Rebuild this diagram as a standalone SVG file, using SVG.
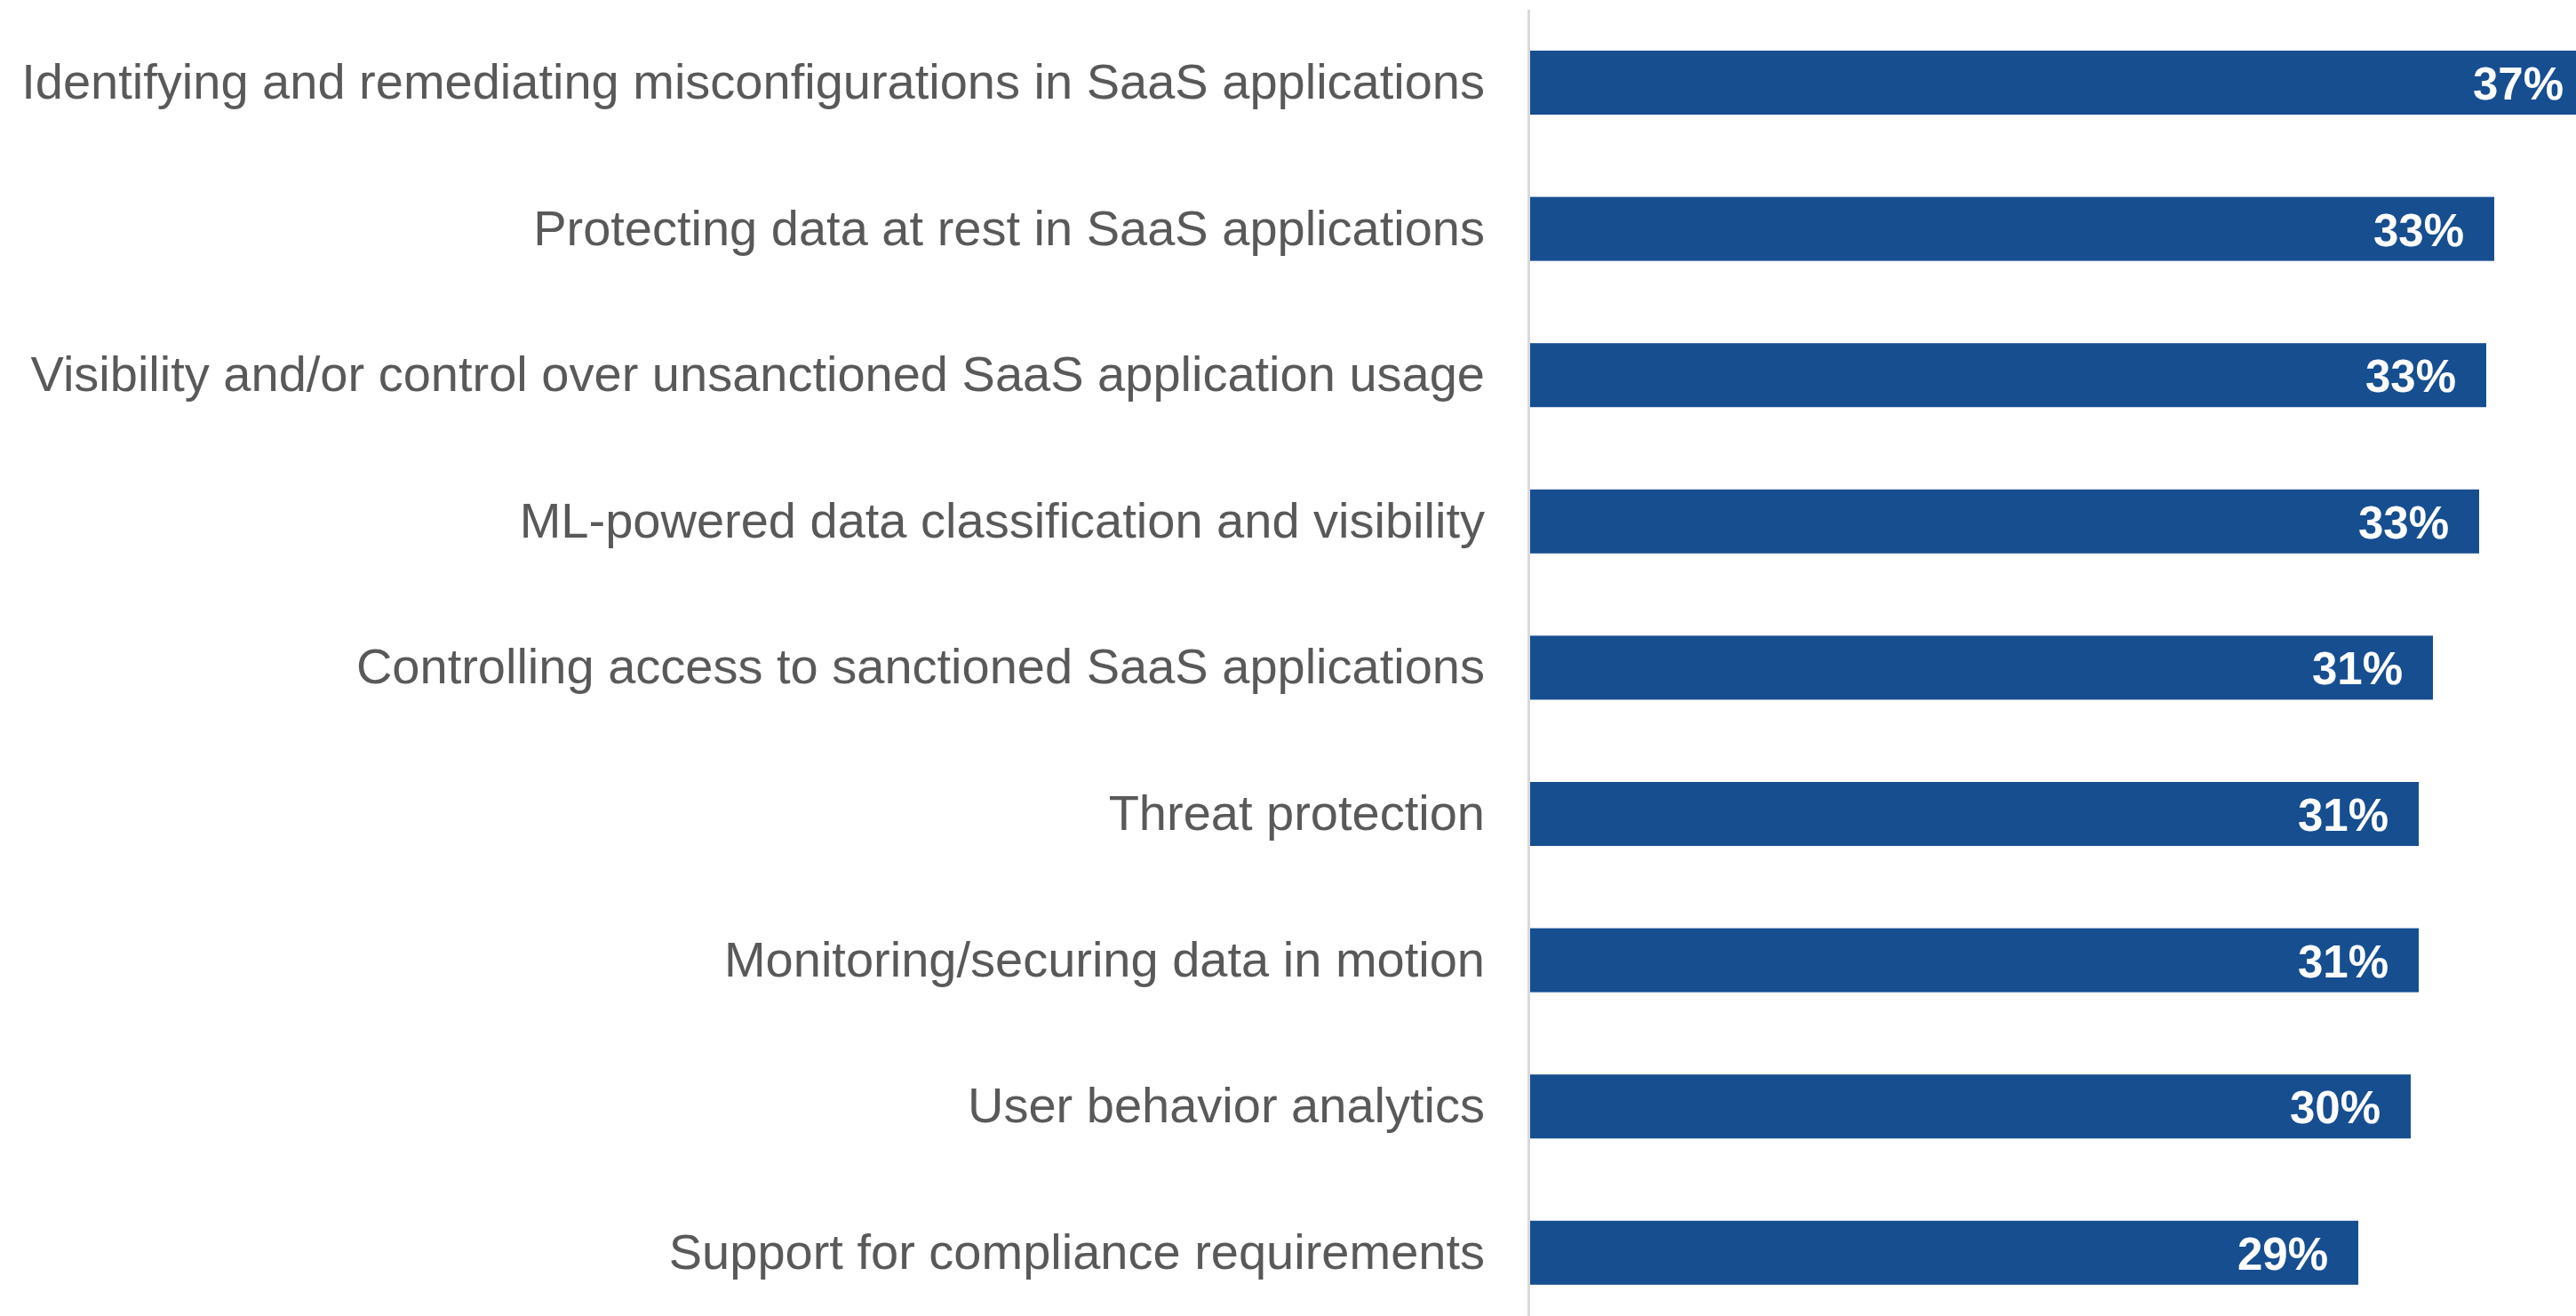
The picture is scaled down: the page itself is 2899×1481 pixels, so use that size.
<svg xmlns="http://www.w3.org/2000/svg" width="2899" height="1481" viewBox="0 0 2899 1481">
<style>
.lbl{font-family:"Liberation Sans",Arial,sans-serif;font-size:56px;fill:#595959;text-anchor:end}
.val{font-family:"Liberation Sans",Arial,sans-serif;font-size:51px;font-weight:bold;fill:#ffffff;text-anchor:end}
.bar{fill:#164e90}
</style>
<rect width="2899" height="1481" fill="#ffffff"/>
<g id="axis"><line x1="1720.5" y1="11" x2="1720.5" y2="1481" stroke="#d9d9d9" stroke-width="3"/></g>
<g id="row1"><rect class="bar" x="1722" y="57" width="1177" height="72"/><text class="lbl" x="1671" y="111">Identifying and remediating misconfigurations in SaaS applications</text><text class="val" x="2885" y="112">37%</text></g>
<g id="row2"><rect class="bar" x="1722" y="221.6" width="1085" height="72"/><text class="lbl" x="1671" y="275.6">Protecting data at rest in SaaS applications</text><text class="val" x="2773" y="276.6">33%</text></g>
<g id="row3"><rect class="bar" x="1722" y="386.2" width="1076" height="72"/><text class="lbl" x="1671" y="440.2">Visibility and/or control over unsanctioned SaaS application usage</text><text class="val" x="2764" y="441.2">33%</text></g>
<g id="row4"><rect class="bar" x="1722" y="550.8" width="1068" height="72"/><text class="lbl" x="1671" y="604.8">ML-powered data classification and visibility</text><text class="val" x="2756" y="605.8">33%</text></g>
<g id="row5"><rect class="bar" x="1722" y="715.4" width="1016" height="72"/><text class="lbl" x="1671" y="769.4">Controlling access to sanctioned SaaS applications</text><text class="val" x="2704" y="770.4">31%</text></g>
<g id="row6"><rect class="bar" x="1722" y="880" width="1000" height="72"/><text class="lbl" x="1671" y="934">Threat protection</text><text class="val" x="2688" y="935">31%</text></g>
<g id="row7"><rect class="bar" x="1722" y="1044.6" width="1000" height="72"/><text class="lbl" x="1671" y="1098.6">Monitoring/securing data in motion</text><text class="val" x="2688" y="1099.6">31%</text></g>
<g id="row8"><rect class="bar" x="1722" y="1209.2" width="991" height="72"/><text class="lbl" x="1671" y="1263.2">User behavior analytics</text><text class="val" x="2679" y="1264.2">30%</text></g>
<g id="row9"><rect class="bar" x="1722" y="1373.8" width="932" height="72"/><text class="lbl" x="1671" y="1427.8">Support for compliance requirements</text><text class="val" x="2620" y="1428.8">29%</text></g>
</svg>
